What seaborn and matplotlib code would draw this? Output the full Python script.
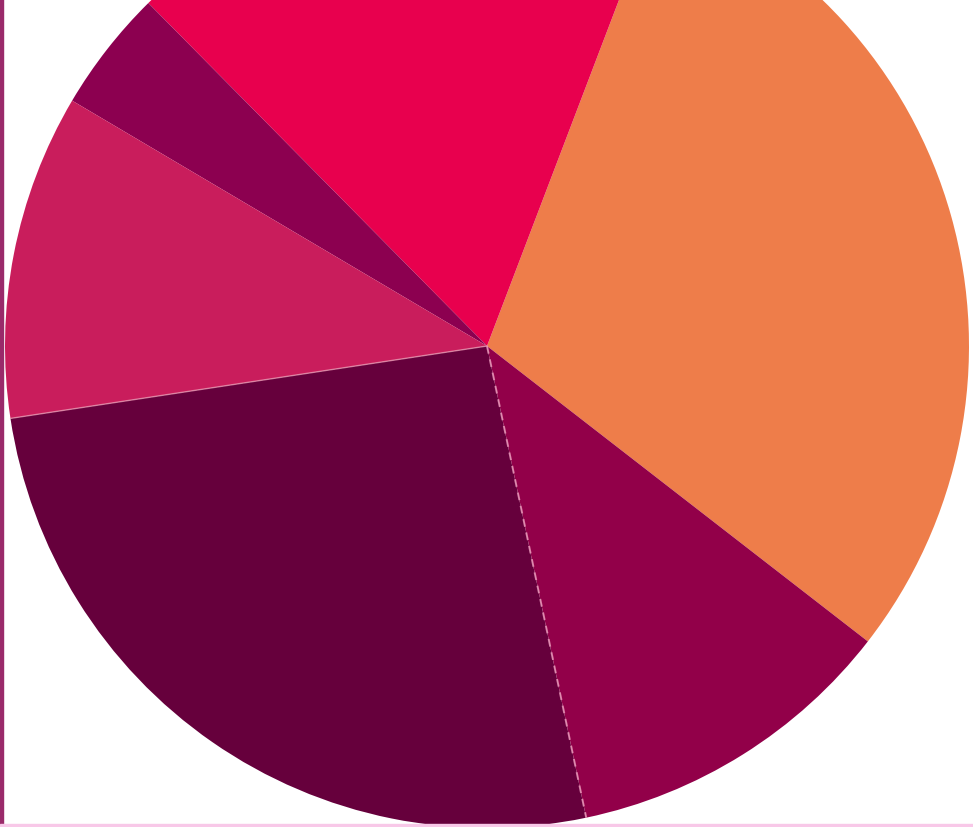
import numpy as np
import matplotlib
matplotlib.use("Agg")
import matplotlib.pyplot as plt
import seaborn as sns

labels = ["A", "B", "C", "D", "E", "F"]
values = [29.7, 18.2, 4.1, 10.9, 25.9, 11.2]
colors = ["#EE7D4A", "#E8004E", "#8C0050", "#C91D5C", "#66003C", "#920049"]
start_angle = -37.8

sns.set_theme(style="white")

W, H = 973, 828
fig = plt.figure(figsize=(W / 100, H / 100), dpi=100)
cx, cy, r = 487, 828 - 347, 482
ax = fig.add_axes([(cx - r) / W, (cy - r) / H, 2 * r / W, 2 * r / H])
wedges, _ = ax.pie(values, colors=colors, startangle=start_angle, counterclock=True,
                   radius=1.0, wedgeprops=dict(linewidth=0, edgecolor="none"))
ax.set_xlim(-1, 1)
ax.set_ylim(-1, 1)
ax.set_aspect("auto")
ax.axis("off")

# boundary lines derived from data
cum = start_angle + 360 * np.cumsum(values) / sum(values)
ang_de = np.deg2rad(cum[3])  # between D and E
ang_ef = np.deg2rad(cum[4])  # between E and F
ax.plot([0, np.cos(ang_de)], [0, np.sin(ang_de)], color="#F2A0B8", lw=1.0, alpha=0.7)
ax.plot([0, np.cos(ang_ef)], [0, np.sin(ang_ef)], color="#F0A0C0", lw=1.4,
        linestyle=(0, (4, 3)), alpha=0.8)

# thin border artifacts at left and bottom
fig.patches.append(plt.Rectangle((0, 0), 3 / W, 1, transform=fig.transFigure,
                                 color="#9A2A6A", zorder=10))
fig.patches.append(plt.Rectangle((0, 0), 1, 3 / H, transform=fig.transFigure,
                                 color="#F8C8E8", zorder=10))

fig.savefig("out.png", dpi=100)
